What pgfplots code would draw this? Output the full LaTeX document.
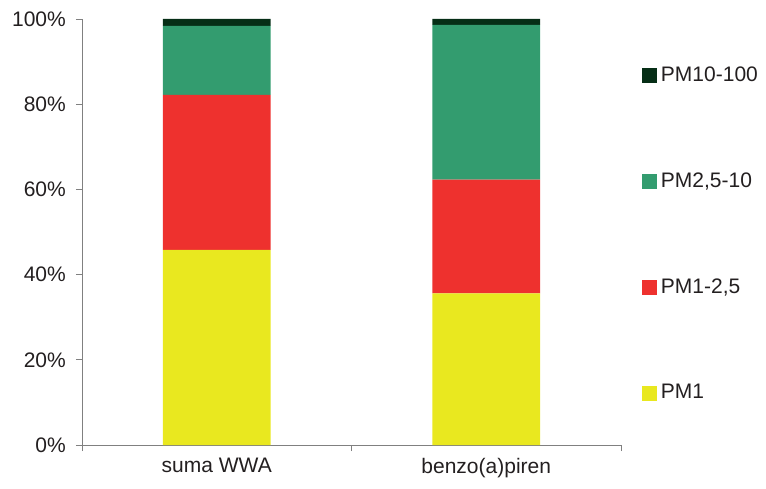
\documentclass[border=0pt]{standalone}
\usepackage{pgfplots}
\pgfplotsset{compat=1.18}
\usepackage{fontspec}
\setmainfont{Liberation Sans}
\definecolor{cPMa}{HTML}{E9E81F}
\definecolor{cPMb}{HTML}{EE312E}
\definecolor{cPMc}{HTML}{339C6F}
\definecolor{cPMd}{HTML}{062E16}
\definecolor{txt}{HTML}{231F20}
\definecolor{axl}{HTML}{808080}
\begin{document}
\fontsize{21bp}{25bp}\selectfont
\begin{tikzpicture}
\useasboundingbox (-82bp,-44bp) rectangle (684bp,445bp);
\begin{axis}[
  at={(0,0)}, anchor=south west,
  scale only axis, width=539bp, height=426bp,
  ybar stacked, bar width=0.4,
  xmin=0.5, xmax=2.5, ymin=0, ymax=100,
  axis lines*=left,
  axis line style={axl, line width=0.8bp},
  tick style={axl, line width=0.8bp},
  tick align=outside, major tick length=6bp,
  ytick={0,20,40,60,80,100},
  yticklabel={\pgfmathprintnumber{\tick}\%},
  /pgf/number format/assume math mode=true,
  xtick={0.5,1.5,2.5}, xticklabels={},
  extra x ticks={1,2},
  extra x tick labels={suma WWA, benzo(a)piren},
  extra x tick style={major tick length=0pt, tick style={draw=none}},
  ticklabel style={font=\fontsize{21bp}{25bp}\selectfont, text=txt},
  yticklabel style={xshift=-3bp},
  xticklabel style={yshift=-6bp},
  reverse legend,
  legend style={draw=none, fill=none, at={(1.033,0.494)}, anchor=west,
    row sep=80bp, font=\fontsize{21bp}{25bp}\selectfont, text=txt,
    nodes={inner sep=4bp}},
  legend cell align=left,
  area legend,
  legend image code/.code={\fill[#1] (0bp,-7.5bp) rectangle (15bp,7.5bp);},
]
\addplot[fill=cPMa, draw=none] coordinates {(1,45.8) (2,35.6)};
\addplot[fill=cPMb, draw=none] coordinates {(1,36.4) (2,26.7)};
\addplot[fill=cPMc, draw=none] coordinates {(1,16.2) (2,36.3)};
\addplot[fill=cPMd, draw=none] coordinates {(1,1.6) (2,1.4)};
\legend{PM1, {PM1-2,5}, {PM2,5-10}, PM10-100}
\end{axis}
\end{tikzpicture}
\end{document}
